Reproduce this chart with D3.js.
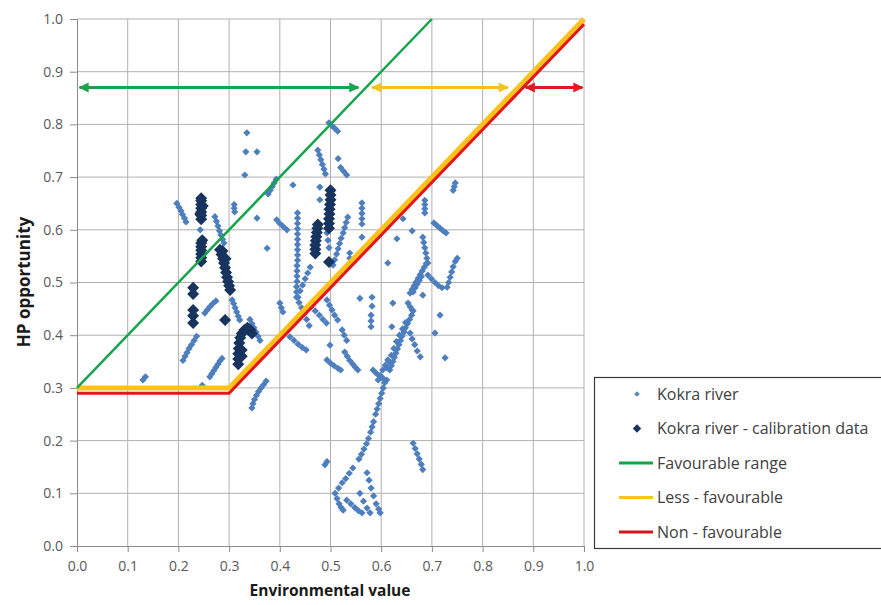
<!DOCTYPE html>
<html>
<head>
<meta charset="utf-8">
<script src="https://cdn.jsdelivr.net/npm/d3@7"></script>
<style>
  body { margin: 0; background: #fff; }
  text { font-family: "Open Sans", "Liberation Sans", sans-serif; }
</style>
</head>
<body>
<svg id="chart" width="881" height="605"></svg>
<script>
// ---- DATA ----
const xTicks = [0, 0.1, 0.2, 0.3, 0.4, 0.5, 0.6, 0.7, 0.8, 0.9, 1.0];
const yTicks = [0, 0.1, 0.2, 0.3, 0.4, 0.5, 0.6, 0.7, 0.8, 0.9, 1.0];

// Kokra river (light markers)
const kokraRiver = [
  // left group
  [0.197,0.650],[0.201,0.643],[0.205,0.636],[0.208,0.629],[0.212,0.622],[0.215,0.615],
  [0.130,0.315],[0.135,0.321],
  [0.272,0.625],[0.275,0.616],[0.278,0.607],[0.281,0.598],[0.284,0.590],[0.287,0.582],[0.290,0.575],
  [0.243,0.600],
  [0.310,0.648],[0.310,0.641],[0.311,0.634],
  [0.355,0.622],
  [0.335,0.784],[0.333,0.748],[0.355,0.748],[0.331,0.704],
  [0.375,0.565],
  [0.209,0.352],[0.213,0.360],[0.217,0.367],[0.221,0.375],[0.226,0.382],[0.231,0.390],[0.236,0.398],
  [0.252,0.442],[0.257,0.448],[0.262,0.454],[0.268,0.460],[0.274,0.465],
  [0.262,0.321],[0.266,0.327],[0.270,0.333],[0.274,0.339],[0.278,0.345],[0.282,0.351],[0.286,0.356],
  [0.247,0.305],
  [0.306,0.467],[0.309,0.460],[0.312,0.452],[0.315,0.444],[0.318,0.436],[0.321,0.429],
  [0.341,0.430],[0.345,0.422],[0.349,0.414],[0.353,0.406],[0.357,0.398],[0.361,0.390],
  [0.345,0.262],[0.347,0.270],[0.350,0.278],[0.354,0.286],[0.358,0.293],[0.363,0.300],[0.368,0.306],[0.373,0.313],
  // middle group
  [0.377,0.668],[0.381,0.675],[0.385,0.682],[0.389,0.689],[0.393,0.696],
  [0.426,0.685],
  [0.394,0.619],[0.400,0.612],[0.407,0.606],[0.414,0.600],
  [0.435,0.632],[0.435,0.622],[0.435,0.612],[0.435,0.602],[0.435,0.592],[0.435,0.582],[0.435,0.572],
  [0.435,0.562],[0.435,0.552],[0.435,0.542],[0.434,0.532],[0.434,0.522],[0.434,0.512],[0.434,0.502],
  [0.433,0.492],[0.433,0.482],[0.433,0.472],
  [0.460,0.529],[0.455,0.518],[0.450,0.507],[0.445,0.495],[0.440,0.484],[0.436,0.472],
  [0.400,0.461],[0.403,0.452],[0.406,0.444],
  [0.438,0.462],[0.443,0.452],[0.448,0.441],[0.453,0.430],[0.458,0.418],
  [0.462,0.454],[0.470,0.446],[0.478,0.438],[0.485,0.430],[0.492,0.423],
  [0.493,0.467],[0.498,0.457],[0.503,0.448],[0.508,0.438],[0.514,0.429],
  [0.420,0.397],[0.428,0.390],[0.436,0.383],[0.444,0.377],[0.452,0.372],
  [0.499,0.381],
  [0.497,0.803],[0.503,0.797],[0.509,0.792],[0.514,0.787],
  [0.475,0.751],[0.478,0.742],[0.481,0.733],[0.484,0.724],[0.487,0.715],[0.490,0.706],
  [0.515,0.735],[0.520,0.718],[0.526,0.711],[0.532,0.704],
  [0.479,0.681],[0.479,0.657],
  [0.562,0.651],[0.562,0.641],[0.562,0.631],[0.562,0.621],[0.562,0.611],[0.562,0.586],
  [0.534,0.624],[0.531,0.614],[0.528,0.604],[0.525,0.594],[0.521,0.584],[0.518,0.574],
  [0.515,0.564],[0.512,0.554],[0.508,0.543],[0.505,0.533],
  [0.538,0.556],[0.538,0.546],
  [0.493,0.594],[0.495,0.580],[0.497,0.566],
  [0.558,0.470],[0.582,0.472],[0.582,0.455],[0.580,0.438],[0.580,0.427],[0.580,0.416],
  [0.493,0.353],[0.500,0.347],[0.507,0.342],[0.515,0.337],[0.520,0.334],
  [0.523,0.410],[0.527,0.400],[0.532,0.390],
  [0.528,0.368],[0.533,0.360],[0.538,0.352],[0.544,0.345],[0.549,0.339],[0.554,0.334],
  // right group
  [0.746,0.689],[0.744,0.682],[0.742,0.675],
  [0.686,0.656],[0.686,0.648],[0.686,0.640],[0.686,0.632],
  [0.643,0.621],[0.661,0.598],[0.631,0.583],[0.613,0.537],
  [0.704,0.613],[0.710,0.608],[0.716,0.603],[0.722,0.598],[0.728,0.594],
  [0.682,0.586],[0.684,0.576],[0.686,0.566],[0.688,0.556],[0.690,0.546],[0.692,0.537],
  [0.657,0.480],[0.661,0.487],[0.665,0.494],[0.669,0.501],[0.673,0.508],[0.677,0.515],
  [0.681,0.522],[0.685,0.529],[0.689,0.536],
  [0.663,0.482],[0.667,0.490],[0.671,0.497],[0.675,0.504],[0.679,0.511],
  [0.692,0.514],[0.699,0.507],[0.706,0.500],[0.713,0.494],[0.720,0.490],
  [0.730,0.491],[0.733,0.500],[0.736,0.510],[0.739,0.520],[0.742,0.530],[0.746,0.540],[0.750,0.546],
  [0.682,0.476],
  [0.623,0.461],[0.653,0.461],[0.657,0.454],[0.661,0.448],[0.621,0.416],
  [0.617,0.334],[0.620,0.342],[0.623,0.350],[0.626,0.358],[0.629,0.366],[0.632,0.374],
  [0.635,0.382],[0.638,0.390],[0.641,0.398],[0.645,0.406],[0.648,0.414],[0.652,0.422],
  [0.656,0.430],[0.660,0.438],[0.663,0.446],
  [0.611,0.338],[0.615,0.350],[0.620,0.362],[0.625,0.375],[0.630,0.388],[0.636,0.400],
  [0.642,0.412],[0.648,0.424],
  [0.657,0.404],[0.661,0.393],[0.666,0.382],[0.671,0.370],[0.677,0.359],
  [0.706,0.404],[0.716,0.438],[0.726,0.357],
  // long streak falling to the bottom
  [0.584,0.334],[0.590,0.328],[0.597,0.322],[0.604,0.318],[0.611,0.315],
  [0.613,0.353],[0.608,0.343],[0.603,0.334],[0.598,0.324],[0.594,0.315],
  [0.607,0.310],[0.604,0.300],[0.601,0.290],[0.598,0.280],[0.595,0.270],[0.592,0.260],
  [0.589,0.250],[0.585,0.236],[0.582,0.226],[0.579,0.216],[0.575,0.204],[0.571,0.194],
  [0.566,0.184],[0.561,0.174],[0.556,0.165],
  [0.489,0.154],[0.493,0.160],
  [0.544,0.148],[0.537,0.138],[0.530,0.128],[0.523,0.120],[0.516,0.110],[0.509,0.100],
  [0.513,0.090],[0.517,0.080],[0.521,0.073],[0.525,0.068],
  [0.532,0.087],[0.540,0.080],[0.548,0.073],[0.555,0.067],[0.562,0.063],
  [0.572,0.139],[0.576,0.125],[0.580,0.110],[0.585,0.095],[0.590,0.080],[0.595,0.070],[0.598,0.063],
  [0.558,0.100],[0.565,0.085],[0.572,0.072],[0.578,0.063],
  [0.663,0.195],[0.667,0.185],[0.671,0.175],[0.675,0.165],[0.679,0.155],[0.682,0.145]
];

// Kokra river - calibration data (dark markers)
const kokraCalibration = [
  [0.245,0.620],[0.245,0.627],[0.245,0.634],[0.245,0.641],[0.245,0.648],[0.245,0.655],[0.245,0.660],
  [0.243,0.630],[0.248,0.645],
  [0.245,0.540],[0.245,0.547],[0.245,0.554],[0.245,0.561],[0.245,0.568],[0.245,0.575],[0.247,0.580],
  [0.282,0.562],[0.285,0.553],[0.288,0.545],[0.290,0.537],[0.292,0.528],[0.294,0.519],
  [0.296,0.510],[0.298,0.502],[0.300,0.494],[0.302,0.486],[0.287,0.560],[0.293,0.545],
  [0.229,0.490],[0.229,0.478],[0.229,0.448],[0.229,0.437],[0.229,0.423],
  [0.292,0.429],
  [0.318,0.345],[0.318,0.355],[0.318,0.365],[0.319,0.375],[0.320,0.385],[0.322,0.395],
  [0.325,0.403],[0.330,0.410],[0.336,0.414],[0.342,0.410],[0.345,0.403],[0.325,0.360],[0.325,0.372],
  [0.497,0.603],[0.497,0.612],[0.497,0.621],[0.498,0.630],[0.498,0.639],[0.499,0.648],
  [0.500,0.657],[0.500,0.666],[0.500,0.675],
  [0.470,0.555],[0.470,0.563],[0.470,0.571],[0.471,0.579],[0.472,0.587],[0.473,0.595],
  [0.474,0.603],[0.475,0.610],
  [0.497,0.539]
];

// range lines
const favourableLine = [[0, 0.3], [0.7, 1.0]];
const lessFavourableLine = [[0, 0.3], [0.3, 0.3], [1.0, 1.0]];
const nonFavourableLine = [[0, 0.29], [0.3, 0.29], [1.0, 0.99]];

// range arrows at HP = 0.87
const arrowLevel = 0.87;
const rangeArrows = [
  { name: "favourable", from: 0.005, to: 0.555, color: "#1ca24f" },
  { name: "less", from: 0.582, to: 0.85, color: "#f3c21b" },
  { name: "non", from: 0.885, to: 0.997, color: "#e01a22" }
];

const legendItems = [
  { label: "Kokra river", type: "light" },
  { label: "Kokra river - calibration data", type: "dark" },
  { label: "Favourable range", type: "line", color: "#17a34a" },
  { label: "Less - favourable", type: "line", color: "#f5c518" },
  { label: "Non - favourable", type: "line", color: "#d7141c" }
];

// ---- CHART ----
const svg = d3.select("#chart");
const x = d3.scaleLinear().domain([0, 1]).range([77, 584]);
const y = d3.scaleLinear().domain([0, 1]).range([546, 19]);

const diamond = r => `M0,${-r}L${r},0L0,${r}L${-r},0Z`;

// grid
const grid = svg.append("g");
grid.selectAll("line.v").data(xTicks.slice(1)).enter().append("line")
  .attr("x1", d => x(d)).attr("x2", d => x(d))
  .attr("y1", y(1)).attr("y2", y(0))
  .attr("stroke", "#b0b0b0").attr("stroke-width", 1);
grid.selectAll("line.h").data(yTicks.slice(1)).enter().append("line")
  .attr("x1", x(0)).attr("x2", x(1))
  .attr("y1", d => y(d)).attr("y2", d => y(d))
  .attr("stroke", "#b0b0b0").attr("stroke-width", 1);

// axes
const xAxis = svg.append("g").attr("transform", `translate(0,${y(0)})`)
  .call(d3.axisBottom(x).tickValues(xTicks).tickFormat(d3.format(".1f")).tickSize(6).tickPadding(9));
const yAxis = svg.append("g").attr("transform", `translate(${x(0)},0)`)
  .call(d3.axisLeft(y).tickValues(yTicks).tickFormat(d3.format(".1f")).tickSize(7).tickPadding(7));
[xAxis, yAxis].forEach(g => {
  g.select(".domain").attr("stroke", "#8c8c8c");
  g.selectAll(".tick line").attr("stroke", "#8c8c8c");
  g.selectAll(".tick text").attr("fill", "#595959").attr("font-size", 14)
    .style("font-family", "'Open Sans', sans-serif");
});

// scatter
svg.append("g").selectAll("path").data(kokraRiver).enter().append("path")
  .attr("d", diamond(3.6))
  .attr("transform", d => `translate(${x(d[0])},${y(d[1])})`)
  .attr("fill", "#4d7ebd");
svg.append("g").selectAll("path").data(kokraCalibration).enter().append("path")
  .attr("d", diamond(6))
  .attr("transform", d => `translate(${x(d[0])},${y(d[1])})`)
  .attr("fill", "#17345f");

// range lines
const line = d3.line().x(d => x(d[0])).y(d => y(d[1]));
svg.append("path").datum(lessFavourableLine).attr("d", line)
  .attr("fill", "none").attr("stroke", "#ffc21a").attr("stroke-width", 5);
svg.append("path").datum(nonFavourableLine).attr("d", line)
  .attr("fill", "none").attr("stroke", "#e3161d").attr("stroke-width", 3);
svg.append("path").datum(favourableLine).attr("d", line)
  .attr("fill", "none").attr("stroke", "#16a44c").attr("stroke-width", 2.5);

// arrows
const defs = svg.append("defs");
rangeArrows.forEach(a => {
  defs.append("marker")
    .attr("id", "head-" + a.name)
    .attr("viewBox", "0 0 10 10").attr("refX", 9).attr("refY", 5)
    .attr("markerWidth", 4).attr("markerHeight", 3.4)
    .attr("orient", "auto-start-reverse")
    .append("path").attr("d", "M0,0L10,5L0,10Z").attr("fill", a.color);
});
svg.append("g").selectAll("line").data(rangeArrows).enter().append("line")
  .attr("x1", d => x(d.from)).attr("x2", d => x(d.to))
  .attr("y1", y(arrowLevel)).attr("y2", y(arrowLevel))
  .attr("stroke", d => d.color).attr("stroke-width", 3)
  .attr("marker-start", d => `url(#head-${d.name})`)
  .attr("marker-end", d => `url(#head-${d.name})`);

// axis titles
svg.append("text").attr("x", 330).attr("y", 596)
  .attr("text-anchor", "middle").attr("font-weight", "bold").attr("font-size", 15.5)
  .attr("fill", "#1a1a1a").text("Environmental value");
svg.append("text").attr("transform", "translate(30,282) rotate(-90)")
  .attr("text-anchor", "middle").attr("font-weight", "bold").attr("font-size", 17)
  .attr("fill", "#1a1a1a").text("HP opportunity");

// legend
const lg = svg.append("g");
lg.append("rect").attr("x", 594.5).attr("y", 377.5).attr("width", 300).attr("height", 171)
  .attr("fill", "#fff").attr("stroke", "#3a3a3a").attr("stroke-width", 1.2);
const rows = lg.selectAll("g.item").data(legendItems).enter().append("g")
  .attr("transform", (d, i) => `translate(0,${394 + i * 34.5})`);
rows.filter(d => d.type === "light").append("path")
  .attr("d", diamond(2.8)).attr("transform", "translate(637,0)").attr("fill", "#5b87bf");
rows.filter(d => d.type === "dark").append("path")
  .attr("d", diamond(4.2)).attr("transform", "translate(637,0)").attr("fill", "#17345f");
rows.filter(d => d.type === "line").append("line")
  .attr("x1", 619).attr("x2", 653).attr("y1", 0).attr("y2", 0)
  .attr("stroke", d => d.color).attr("stroke-width", 3);
rows.append("text").attr("x", 657).attr("y", 0).attr("dy", "0.35em")
  .attr("font-size", 16).attr("fill", "#404040").text(d => d.label);
</script>
</body>
</html>
